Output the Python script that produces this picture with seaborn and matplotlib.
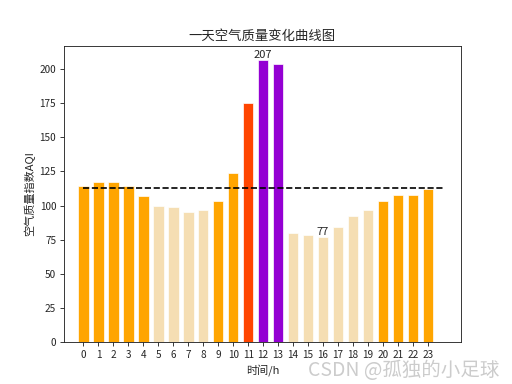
import numpy as np
import pandas as pd
import matplotlib
matplotlib.use('Agg')
import matplotlib.pyplot as plt
import seaborn as sns

hours = list(range(24))
aqi = [114, 117, 117, 114, 107, 100, 99, 95, 97, 103, 124, 175,
       207, 204, 80, 78, 77, 84, 92, 97, 103, 108, 108, 112]

def aqi_color(v):
    if v <= 100:
        return 'wheat'
    if v <= 150:
        return 'orange'
    if v <= 200:
        return 'orangered'
    return 'darkviolet'

colors = [aqi_color(v) for v in aqi]

sns.set_style('ticks')
plt.rcParams['font.family'] = ['Noto Sans CJK SC', 'DejaVu Sans']
plt.rcParams['axes.unicode_minus'] = False

df = pd.DataFrame({'hour': hours, 'aqi': aqi})

# original was 640x480 scaled down, so keep the default size at 80 dpi
fig, ax = plt.subplots(figsize=(6.4, 4.8), dpi=80)
sns.barplot(data=df, x='hour', y='aqi', hue='hour', palette=colors,
            legend=False, width=0.7, saturation=1, edgecolor='white',
            linewidth=0.6, ax=ax)

mean_aqi = np.mean(aqi)
ax.hlines(mean_aqi, 0, 24, colors='black', linestyles='--')

imax = int(np.argmax(aqi))
imin = int(np.argmin(aqi))
ax.text(imax, aqi[imax], str(aqi[imax]), ha='center', va='bottom', fontsize=10)
ax.text(imin, aqi[imin], str(aqi[imin]), ha='center', va='bottom', fontsize=10)

ax.set_title('一天空气质量变化曲线图', fontsize=12)
ax.set_xlabel('时间/h', fontsize=10)
ax.set_ylabel('空气质量指数AQI', fontsize=10)
ax.tick_params(labelsize=9)
ax.set_ylim(0, 217)
ax.set_xlim(-1.3, 25.2)

fig.text(0.975, 0.008, 'CSDN @孤独的小足球', ha='right', va='bottom',
         fontsize=17.5, color='#cccccc')

plt.savefig('out.png', dpi=80)
